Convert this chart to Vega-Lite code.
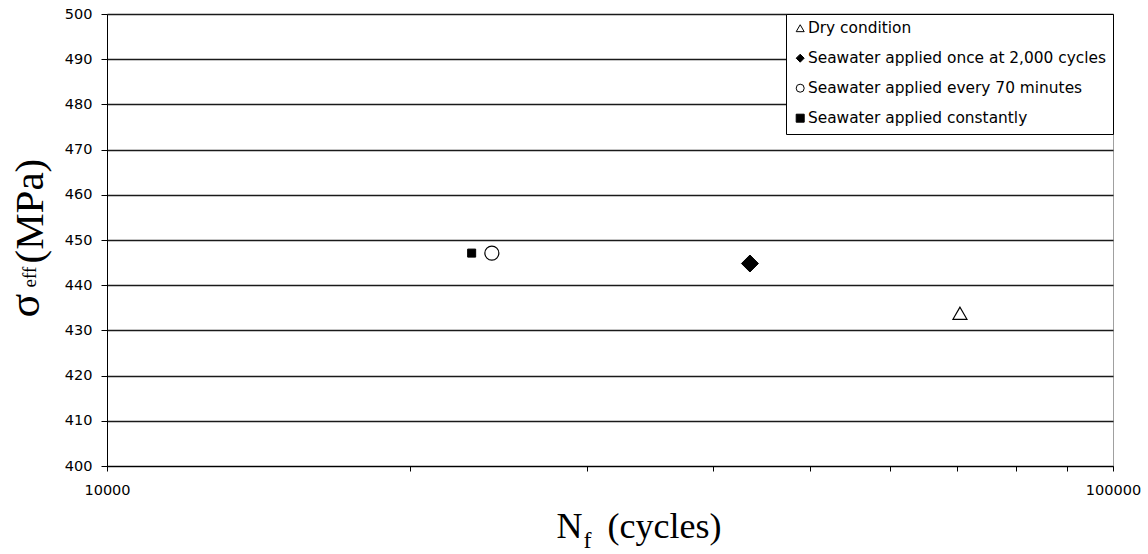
{
  "$schema": "https://vega.github.io/schema/vega-lite/v6.json",
  "width": 1006,
  "height": 452,
  "autosize": {"type": "none"},
  "padding": {"left": 107, "top": 14, "right": 35, "bottom": 88},
  "background": "white",
  "data": {
    "values": [
      {"condition": "Dry condition", "cycles": 70450, "stress": 433.8},
      {"condition": "Seawater applied once at 2,000 cycles", "cycles": 43560, "stress": 444.8},
      {"condition": "Seawater applied every 70 minutes", "cycles": 24130, "stress": 447.1},
      {"condition": "Seawater applied constantly", "cycles": 23040, "stress": 447.1}
    ]
  },
  "encoding": {
    "shape": {
      "field": "condition",
      "type": "nominal",
      "scale": {
        "domain": ["Dry condition", "Seawater applied once at 2,000 cycles", "Seawater applied every 70 minutes", "Seawater applied constantly"],
        "range": ["triangle-up", "diamond", "circle", "square"]
      },
      "legend": {
        "title": null,
        "encode": {"symbols": {"update": {"stroke": {"value": "black"}, "strokeWidth": {"value": 1}, "opacity": {"value": 1}}}}
      }
    },
    "fill": {
      "field": "condition",
      "type": "nominal",
      "scale": {
        "domain": ["Dry condition", "Seawater applied once at 2,000 cycles", "Seawater applied every 70 minutes", "Seawater applied constantly"],
        "range": ["white", "black", "white", "black"]
      },
      "legend": {
        "title": null,
        "encode": {"symbols": {"update": {"stroke": {"value": "black"}, "strokeWidth": {"value": 1}, "opacity": {"value": 1}}}}
      }
    }
  },
  "layer": [
    {
      "transform": [{"filter": {"field": "condition", "equal": "Dry condition"}}],
      "mark": {"type": "point", "filled": true, "stroke": "black", "strokeWidth": 1.2, "opacity": 1, "size": 196},
      "encoding": {
        "x": {
          "field": "cycles",
          "type": "quantitative",
          "scale": {"type": "log", "domain": [10000, 100000], "nice": false},
          "axis": {
            "values": [10000, 20000, 30000, 40000, 50000, 60000, 70000, 80000, 90000, 100000],
            "format": "d",
            "labelExpr": "datum.value == 10000 || datum.value == 100000 ? datum.label : ''",
            "tickSize": 5,
            "labelPadding": 12,
            "grid": false,
            "title": "N",
            "titleFontSize": 36,
            "titleAngle": 0,
            "titleAlign": "left",
            "titleBaseline": "alphabetic",
            "titleX": 449,
            "titleY": 71
          }
        },
        "y": {
          "field": "stress",
          "type": "quantitative",
          "scale": {"domain": [400, 500], "nice": false, "zero": false},
          "axis": {
            "values": [400, 410, 420, 430, 440, 450, 460, 470, 480, 490, 500],
            "tickSize": 6,
            "labelPadding": 9,
            "grid": true,
            "gridColor": "#1a1a1a",
            "gridWidth": 1.4,
            "title": "σ",
            "titleFontSize": 44,
            "titleAngle": -90,
            "titleAlign": "left",
            "titleBaseline": "alphabetic",
            "titleX": -69,
            "titleY": 303
          }
        }
      }
    },
    {
      "transform": [{"filter": {"field": "condition", "equal": "Seawater applied once at 2,000 cycles"}}],
      "mark": {"type": "point", "filled": true, "stroke": "black", "strokeWidth": 1, "opacity": 1, "size": 289},
      "encoding": {
        "x": {
          "field": "cycles",
          "type": "quantitative",
          "scale": {"type": "log", "domain": [10000, 100000], "nice": false},
          "axis": {
            "orient": "bottom",
            "domain": false,
            "ticks": false,
            "labels": false,
            "grid": false,
            "title": "f",
            "titleFontSize": 24,
            "titleAngle": 0,
            "titleAlign": "left",
            "titleBaseline": "alphabetic",
            "titleX": 476,
            "titleY": 81
          }
        },
        "y": {
          "field": "stress",
          "type": "quantitative",
          "scale": {"domain": [400, 500], "nice": false, "zero": false},
          "axis": {
            "orient": "left",
            "domain": false,
            "ticks": false,
            "labels": false,
            "grid": false,
            "title": "eff",
            "titleFontSize": 19,
            "titleAngle": -90,
            "titleAlign": "left",
            "titleBaseline": "alphabetic",
            "titleX": -72,
            "titleY": 273
          }
        }
      }
    },
    {
      "transform": [{"filter": {"field": "condition", "equal": "Seawater applied every 70 minutes"}}],
      "mark": {"type": "point", "filled": true, "stroke": "black", "strokeWidth": 1.2, "opacity": 1, "size": 196},
      "encoding": {
        "x": {
          "field": "cycles",
          "type": "quantitative",
          "scale": {"type": "log", "domain": [10000, 100000], "nice": false},
          "axis": {
            "orient": "bottom",
            "domain": false,
            "ticks": false,
            "labels": false,
            "grid": false,
            "title": "(cycles)",
            "titleFontSize": 36,
            "titleAngle": 0,
            "titleAlign": "left",
            "titleBaseline": "alphabetic",
            "titleX": 500,
            "titleY": 71
          }
        },
        "y": {
          "field": "stress",
          "type": "quantitative",
          "scale": {"domain": [400, 500], "nice": false, "zero": false},
          "axis": {
            "orient": "left",
            "domain": false,
            "ticks": false,
            "labels": false,
            "grid": false,
            "title": "(MPa)",
            "titleFontSize": 41,
            "titleAngle": -90,
            "titleAlign": "left",
            "titleBaseline": "alphabetic",
            "titleX": -65,
            "titleY": 249
          }
        }
      }
    },
    {
      "transform": [{"filter": {"field": "condition", "equal": "Seawater applied constantly"}}],
      "mark": {"type": "point", "filled": true, "stroke": "black", "strokeWidth": 1, "opacity": 1, "size": 64},
      "encoding": {
        "x": {
          "field": "cycles",
          "type": "quantitative",
          "scale": {"type": "log", "domain": [10000, 100000], "nice": false},
          "axis": null
        },
        "y": {
          "field": "stress",
          "type": "quantitative",
          "scale": {"domain": [400, 500], "nice": false, "zero": false},
          "axis": null
        }
      }
    }
  ],
  "resolve": {"axis": {"x": "independent", "y": "independent"}},
  "config": {
    "view": {"stroke": "#a0a0a0", "strokeWidth": 1},
    "axis": {
      "labelFont": "DejaVu Sans",
      "labelFontSize": 14.5,
      "labelColor": "black",
      "labelFlush": false,
      "labelOverlap": false,
      "domainColor": "black",
      "domainWidth": 1,
      "tickColor": "black",
      "titleFont": "Liberation Serif",
      "titleColor": "black",
      "titleFontWeight": "normal"
    },
    "legend": {
      "orient": "top-right",
      "offset": 0,
      "strokeColor": "black",
      "strokeWidth": 1,
      "fillColor": "white",
      "padding": 6.5,
      "rowPadding": 13,
      "labelFont": "DejaVu Sans",
      "labelFontSize": 15.4,
      "labelColor": "black",
      "labelLimit": 500,
      "labelOffset": 0,
      "symbolSize": 64,
      "symbolStrokeColor": "black",
      "symbolStrokeWidth": 1,
      "symbolOpacity": 1
    }
  }
}
